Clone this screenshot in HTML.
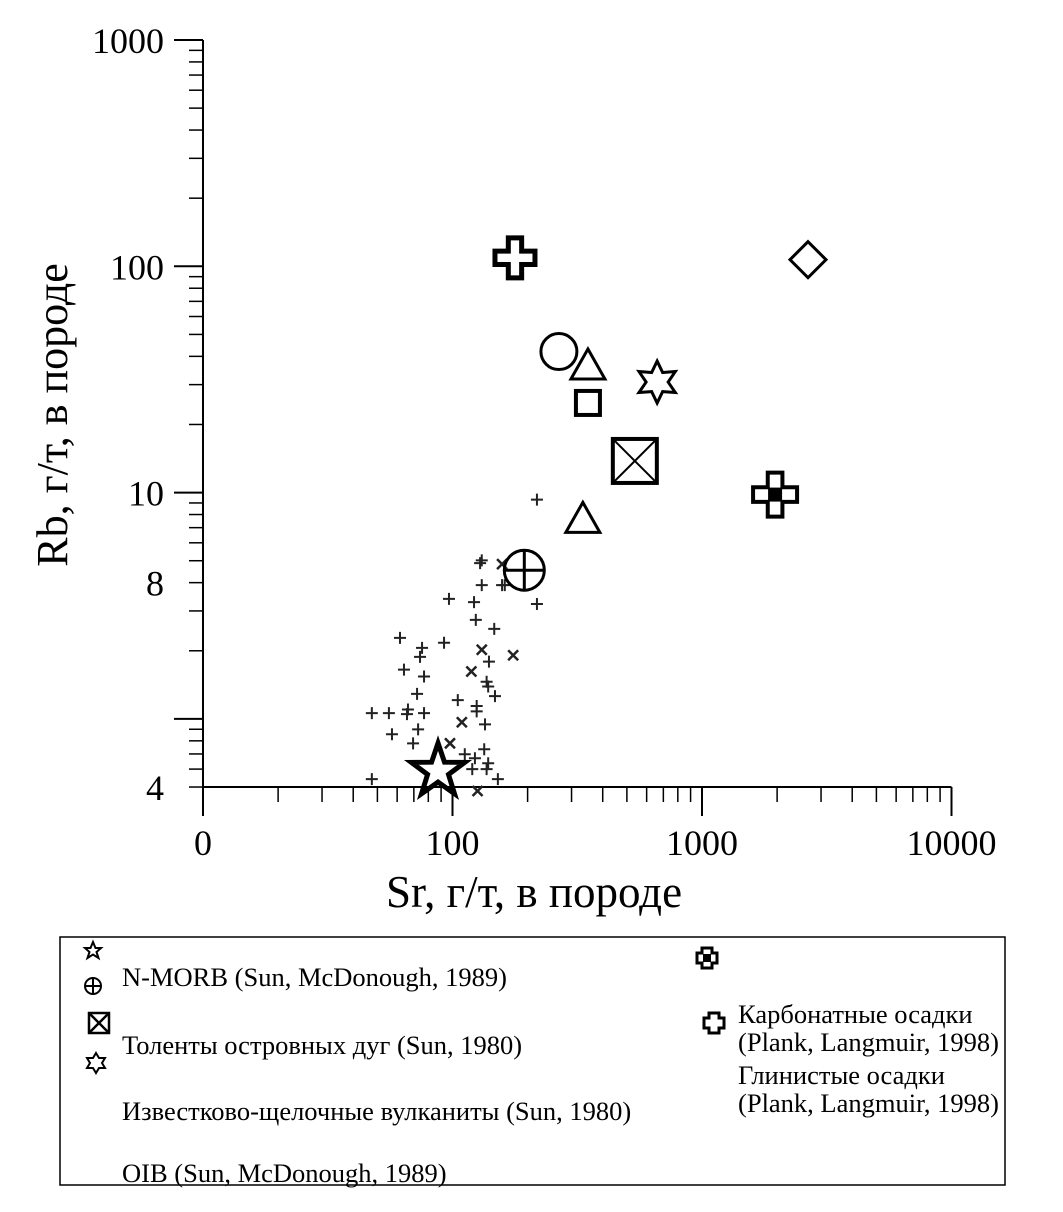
<!DOCTYPE html>
<html><head><meta charset="utf-8"><style>
html,body{margin:0;padding:0;background:#fff;}
svg{display:block;font-family:"Liberation Serif",serif;}
</style></head><body>
<svg id="chart" width="1063" height="1212" viewBox="0 0 1063 1212">
<g id="axes"></g>
<g id="marks"></g>
<text x="0" y="0" transform="translate(67,415) rotate(-90)" text-anchor="middle" font-size="44">Rb, г/т, в породе</text>
<text x="534" y="907" text-anchor="middle" font-size="45">Sr, г/т, в породе</text>
<g font-size="26.5">
<rect x="60" y="937" width="945" height="248" fill="none" stroke="#000" stroke-width="1.5"/>
<polygon points="93,942 95.5,948 101,948 96.5,952 98.5,958 93,954.5 87.5,958 89.5,952 85,948 90.5,948" fill="none" stroke="#000" stroke-width="2"/>
<g fill="none" stroke="#000" stroke-width="2"><circle cx="93" cy="986" r="8"/><line x1="85" y1="986" x2="101" y2="986"/><line x1="93" y1="978" x2="93" y2="994"/></g>
<g fill="none" stroke="#000" stroke-width="2.5"><rect x="89" y="1013" width="20" height="20"/><line x1="89" y1="1013" x2="109" y2="1033"/><line x1="109" y1="1013" x2="89" y2="1033"/></g>
<polygon points="96,1053 99,1058 105,1058 102,1063 105,1068 99,1068 96,1073 93,1068 87,1068 90,1063 87,1058 93,1058" fill="none" stroke="#000" stroke-width="2"/>
<text x="122" y="986">N-MORB (Sun, McDonough, 1989)</text>
<text x="122" y="1054">Толенты островных дуг (Sun, 1980)</text>
<text x="122" y="1120">Известково-щелочные вулканиты (Sun, 1980)</text>
<text x="122" y="1182">OIB (Sun, McDonough, 1989)</text>
<g><path d="M702,948h10v5h5v10h-5v5h-10v-5h-5v-10h5z" fill="none" stroke="#000" stroke-width="3"/><rect x="703" y="954" width="8" height="8" fill="#000"/></g>
<path d="M709,1013h10v5h5v10h-5v5h-10v-5h-5v-10h5z" fill="none" stroke="#000" stroke-width="3"/>
<text x="738" y="1023">Карбонатные осадки</text>
<text x="738" y="1051">(Plank, Langmuir, 1998)</text>
<text x="738" y="1084">Глинистые осадки</text>
<text x="738" y="1112">(Plank, Langmuir, 1998)</text>
</g>
</svg>
<script>
const xTickVals=[10,100,1000,10000];
const xTickLabels=['0','100','1000','10000'];
const yTickVals=[1000,100,10,4,0.5];
const yTickLabels=['1000','100','10','8','4'];
const plusX=[218,131,129,158,131,162,96.8,122,218,124,147,61.6,75.5,74.1,92.5,140,63.9,76.9,137,139,72.1,148,105,125,125,47.5,55.6,66.3,65.7,76.9,135,72.8,57.2,69.5,134,112,123,139,120,137,47.5,152];
const plusY=[9.31,5.02,4.88,3.90,3.90,3.90,3.39,3.28,3.22,2.74,2.50,2.28,2.06,1.88,2.17,1.79,1.65,1.54,1.46,1.39,1.29,1.26,1.21,1.14,1.08,1.06,1.06,1.10,1.05,1.06,0.946,0.899,0.855,0.780,0.734,0.698,0.670,0.637,0.600,0.600,0.542,0.542];
const crossX=[158,175,131,119,109,97.7,126];
const crossY=[4.83,1.91,2.02,1.62,0.966,0.780,0.480];
const bigNames=['clay-sediment','oib-diamond','circle','triangle-upper','hexagram','square','crossed-square','carbonate-sediment','triangle-lower','circle-plus','n-morb-star'];
const bigX=[178,2660,267,349,661,349,538,1963,333,194,87.5];
const bigY=[109,107,42,37,30.8,24.9,13.8,9.8,7.77,4.54,0.588];

const X0=203,XD=249.5,Y0=40,YD=226.3;
function sx(v){return X0+(Math.log10(v)-1)*XD;}
function sy(v){return Y0+(3-Math.log10(v))*YD;}
const NS='http://www.w3.org/2000/svg';
function mk(tag,attrs,parent){const e=document.createElementNS(NS,tag);for(const k in attrs)e.setAttribute(k,attrs[k]);parent.appendChild(e);return e;}
const axes=document.getElementById('axes');
const marks=document.getElementById('marks');
let a=mk('line',{x1:X0,y1:Y0,x2:X0,y2:808,stroke:'#000','stroke-width':2},axes);


a=mk('line',{x1:X0,y1:sy(0.5),x2:sx(10000),y2:sy(0.5),stroke:'#000','stroke-width':2},axes);


const yb=sy(0.5);
for(let d=1;d<=3;d++){for(let m=2;m<=9;m++){const x=sx(m*Math.pow(10,d));const t=mk('line',{x1:x,y1:yb,x2:x,y2:yb+15,stroke:'#000','stroke-width':1.5},axes);

}}
xTickVals.forEach((v,i)=>{const x=sx(v);const t=mk('line',{x1:x,y1:yb,x2:x,y2:yb+29,stroke:'#000','stroke-width':2},axes);


const l=mk('text',{x:x,y:855,'text-anchor':'middle','font-size':36},axes);l.textContent=xTickLabels[i];

});
for(let d=-1;d<=2;d++){for(let m=2;m<=9;m++){const v=m*Math.pow(10,d);if(v<0.5)continue;const y=sy(v);const t=mk('line',{x1:X0-14,y1:y,x2:X0,y2:y,stroke:'#000','stroke-width':1.5},axes);

}}
[1000,100,10,1].forEach(v=>{const y=sy(v);const t=mk('line',{x1:X0-29,y1:y,x2:X0,y2:y,stroke:'#000','stroke-width':2},axes);

});
yTickVals.forEach((v,i)=>{const l=mk('text',{x:164,y:sy(v)+13,'text-anchor':'end','font-size':36},axes);l.textContent=yTickLabels[i];

});
plusX.forEach((v,i)=>{const x=sx(v),y=sy(plusY[i]);const p=mk('path',{d:`M${x-6},${y}h12M${x},${y-6}v12`,stroke:'#222','stroke-width':2},marks);

});
crossX.forEach((v,i)=>{const x=sx(v),y=sy(crossY[i]);const p=mk('path',{d:`M${x-5},${y-5}l10,10M${x+5},${y-5}l-10,10`,stroke:'#222','stroke-width':2.5},marks);

});
function crossPath(x,y,s){const h=s/2,q=s/6;return `M${x-q},${y-h}h${2*q}v${h-q}h${h-q}v${2*q}h${-(h-q)}v${h-q}h${-2*q}v${-(h-q)}h${-(h-q)}v${-2*q}h${h-q}z`;}
bigNames.forEach((n,i)=>{const x=sx(bigX[i]),y=sy(bigY[i]);const g=mk('g',{fill:'none',stroke:'#000','stroke-width':3},marks);


if(n==='clay-sediment'){mk('path',{d:crossPath(x,y,40),'stroke-width':5},g);}
else if(n==='carbonate-sediment'){mk('path',{d:crossPath(x,y,44),'stroke-width':4},g);mk('rect',{x:x-7,y:y-7,width:14,height:14,fill:'#000',stroke:'none'},g);}
else if(n==='oib-diamond'){mk('path',{d:`M${x},${y-18}L${x+18},${y}L${x},${y+18}L${x-18},${y}Z`},g);}
else if(n==='circle'){mk('circle',{cx:x,cy:y,r:18},g);}
else if(n.startsWith('triangle')){mk('path',{d:`M${x},${y-15}L${x+17},${y+15}L${x-17},${y+15}Z`},g);}
else if(n==='hexagram'){let pts=[];for(let k=0;k<12;k++){const r=k%2?11:21;const an=-Math.PI/2+k*Math.PI/6;pts.push((x+r*Math.cos(an))+','+(y+r*Math.sin(an)));}mk('polygon',{points:pts.join(' ')},g);}
else if(n==='square'){mk('rect',{x:x-12,y:y-12,width:24,height:24,'stroke-width':4},g);}
else if(n==='crossed-square'){mk('rect',{x:x-22,y:y-22,width:44,height:44,'stroke-width':4},g);mk('path',{d:`M${x-22},${y-22}L${x+22},${y+22}M${x+22},${y-22}L${x-22},${y+22}`,'stroke-width':2},g);}
else if(n==='circle-plus'){mk('circle',{cx:x,cy:y,r:20},g);mk('path',{d:`M${x-20},${y}h40M${x},${y-20}v40`},g);}
else if(n==='n-morb-star'){let pts=[];for(let k=0;k<10;k++){const r=k%2?11:28;const an=-Math.PI/2+k*Math.PI/5;pts.push((x+r*Math.cos(an))+','+(y+r*Math.sin(an)));}mk('polygon',{points:pts.join(' '),'stroke-width':5},g);}
});
</script>
</body></html>
